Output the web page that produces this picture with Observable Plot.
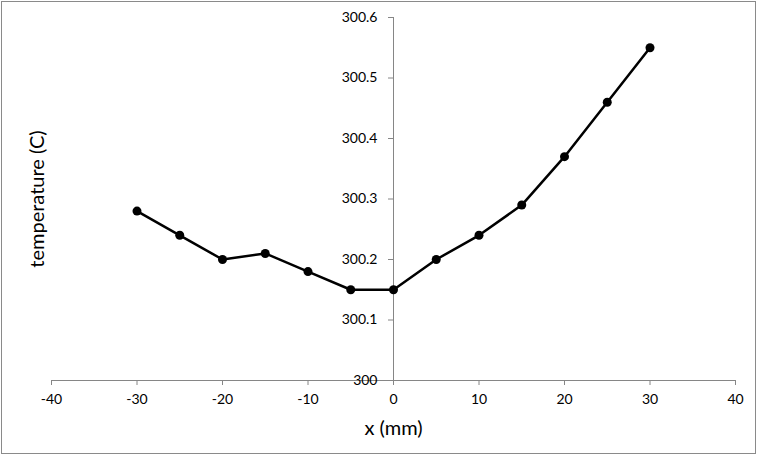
<!DOCTYPE html>
<html>
<head>
<meta charset="utf-8">
<script src="https://cdn.jsdelivr.net/npm/d3@7"></script>
<script src="https://cdn.jsdelivr.net/npm/@observablehq/plot@0.6"></script>
<style>
  html, body { margin: 0; padding: 0; background: #fff; }
  #chart svg { display: block; outline: 1px solid #8a8a8a; outline-offset: -2px; }
</style>
</head>
<body>
<div id="chart"></div>
<script>
const xValues = [-30, -25, -20, -15, -10, -5, 0, 5, 10, 15, 20, 25, 30];
const temperature = [300.28, 300.24, 300.20, 300.21, 300.18, 300.15, 300.15, 300.20, 300.24, 300.29, 300.37, 300.46, 300.55];
const xTicks = [-40, -30, -20, -10, 0, 10, 20, 30, 40];
const yTicks = [300, 300.1, 300.2, 300.3, 300.4, 300.5, 300.6];

const data = xValues.map((x, i) => ({x, t: temperature[i]}));

const W = 757, H = 455;
const mL = 51, mR = 22, mT = 17, mB = 75;
const xDomain = [-40, 40];
const yAxisShift = (0 - xDomain[0]) / (xDomain[1] - xDomain[0]) * (W - mL - mR);
const axisColor = "#868686";
const font = "Lato, 'Open Sans', sans-serif";

const plot = Plot.plot({
  width: W,
  height: H,
  marginLeft: mL,
  marginRight: mR,
  marginTop: mT,
  marginBottom: mB,
  style: {fontFamily: font, fontSize: "14px", color: "#000", background: "#fff"},
  x: {domain: xDomain, ticks: xTicks},
  y: {domain: [300, 300.6], ticks: yTicks},
  marks: [
    Plot.ruleY([300], {stroke: axisColor, strokeWidth: 1}),
    Plot.ruleX([0], {stroke: axisColor, strokeWidth: 1}),
    Plot.axisX({
      ticks: xTicks, tickSize: 5, tickPadding: 9, stroke: axisColor,
      tickFormat: d => String(d), fill: "#000", label: null
    }),
    Plot.axisY({
      anchor: "left", ticks: yTicks, tickSize: 5, tickPadding: 11, dx: yAxisShift,
      stroke: axisColor, tickFormat: d => d3.format(".1~f")(d), fill: "#000", label: null
    }),
    Plot.line(data, {x: "x", y: "t", stroke: "#000", strokeWidth: 2.5}),
    Plot.dot(data, {x: "x", y: "t", r: 4.5, fill: "#000", stroke: "none"}),
    Plot.text(["x (mm)"], {frameAnchor: "bottom", lineAnchor: "middle", dy: 48, fontSize: 20, fill: "#000"}),
    Plot.text(["temperature (C)"], {frameAnchor: "left", textAnchor: "middle", lineAnchor: "middle", dx: -14, rotate: -90, fontSize: 20, fill: "#000"})
  ]
});

document.getElementById("chart").appendChild(plot);
</script>
</body>
</html>
